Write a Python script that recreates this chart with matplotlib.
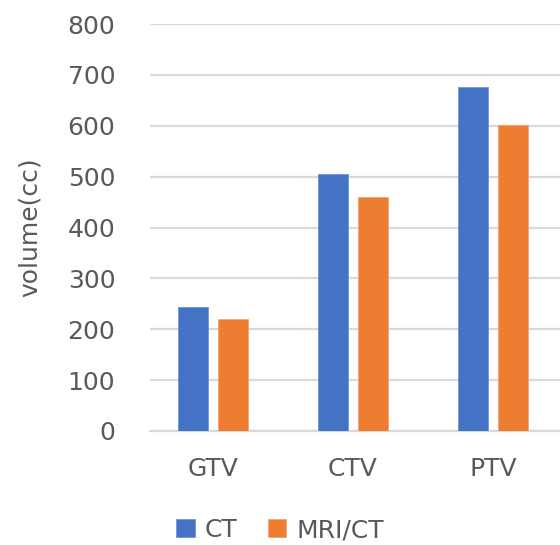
import matplotlib
matplotlib.use("Agg")
import matplotlib.pyplot as plt
import numpy as np

categories = ["GTV", "CTV", "PTV"]
series_names = ["CT", "MRI/CT"]
ct_values = [243, 505, 676]
mri_ct_values = [220, 460, 601]
y_ticks = [0, 100, 200, 300, 400, 500, 600, 700, 800]

colors = ["#4472C4", "#ED7D31"]
text_color = "#595959"
grid_color = "#D9D9D9"

plt.rcParams["font.family"] = ["DejaVu Sans"]

W, H = 560, 545
fig = plt.figure(figsize=(W / 100, H / 100), dpi=100)
left, right, top, bottom = 150, 563, 24, 431
ax = fig.add_axes([left / W, 1 - bottom / H, (right - left) / W, (bottom - top) / H])

x = np.arange(len(categories))
bw = 0.221
off = 0.143
ax.bar(x - off, ct_values, bw, color=colors[0], edgecolor="#6E93D6", linewidth=0.6, label=series_names[0], zorder=3)
ax.bar(x + off, mri_ct_values, bw, color=colors[1], edgecolor="#F4A574", linewidth=0.6, label=series_names[1], zorder=3)

ax.set_xlim(-0.45, 2.5)
ax.set_ylim(0, 800)
ax.set_yticks(y_ticks)
ax.set_xticks(x)
ax.set_xticklabels(categories)
ax.yaxis.grid(True, color=grid_color, linewidth=1.6, zorder=0)
ax.set_axisbelow(True)
for s in ["top", "right", "left"]:
    ax.spines[s].set_visible(False)
ax.spines["bottom"].set_color(grid_color)
ax.spines["bottom"].set_linewidth(1.6)
ax.tick_params(axis="both", length=0, colors=text_color, labelsize=18)
ax.tick_params(axis="y", pad=25)
ax.tick_params(axis="x", pad=19)
for lab in ax.get_xticklabels() + ax.get_yticklabels():
    lab.set_color(text_color)

ax.set_ylabel("volume(cc)", fontsize=18, color=text_color)
ax.yaxis.set_label_coords(-108 / (right - left), 0.5)

leg = fig.legend(loc="center", bbox_to_anchor=(280 / W, 1 - 530 / H), ncol=2, frameon=False,
                 fontsize=18, handlelength=0.75, handleheight=0.75, handletextpad=0.4,
                 columnspacing=1.2, labelcolor=text_color)

fig.savefig("out.png", dpi=100, facecolor="white")
